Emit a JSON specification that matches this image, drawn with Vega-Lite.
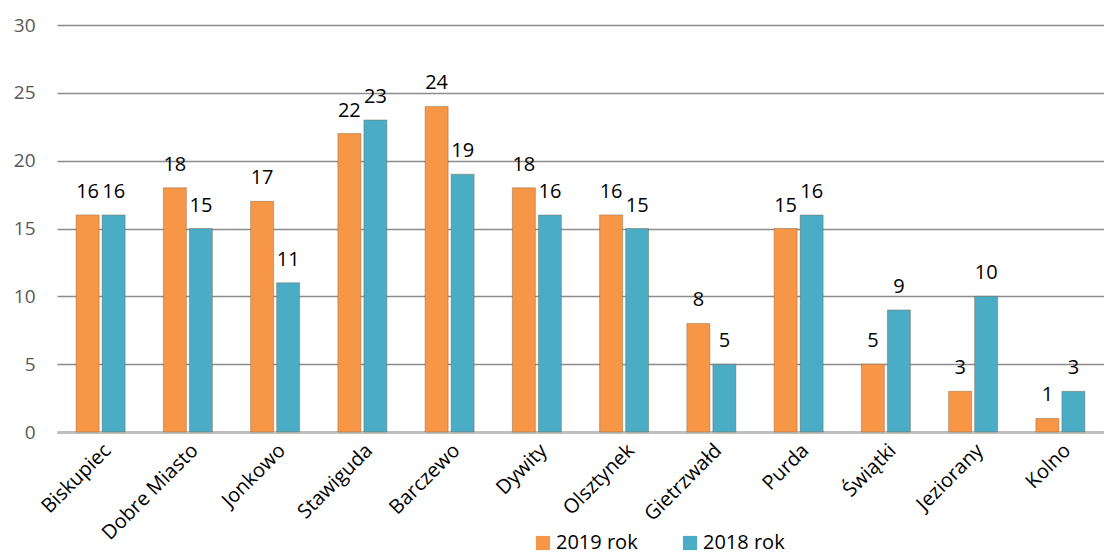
{
  "$schema": "https://vega.github.io/schema/vega-lite/v6.json",
  "width": 1047,
  "height": 407,
  "autosize": {"type": "none"},
  "padding": {"left": 57, "top": 25, "right": 0, "bottom": 124},
  "background": "white",
  "config": {"view": {"stroke": null}, "font": "Open Sans"},
  "data": {
    "values": [
      {"gmina": "Biskupiec", "seria": "2019 rok", "wartosc": 16},
      {"gmina": "Biskupiec", "seria": "2018 rok", "wartosc": 16},
      {"gmina": "Dobre Miasto", "seria": "2019 rok", "wartosc": 18},
      {"gmina": "Dobre Miasto", "seria": "2018 rok", "wartosc": 15},
      {"gmina": "Jonkowo", "seria": "2019 rok", "wartosc": 17},
      {"gmina": "Jonkowo", "seria": "2018 rok", "wartosc": 11},
      {"gmina": "Stawiguda", "seria": "2019 rok", "wartosc": 22},
      {"gmina": "Stawiguda", "seria": "2018 rok", "wartosc": 23},
      {"gmina": "Barczewo", "seria": "2019 rok", "wartosc": 24},
      {"gmina": "Barczewo", "seria": "2018 rok", "wartosc": 19},
      {"gmina": "Dywity", "seria": "2019 rok", "wartosc": 18},
      {"gmina": "Dywity", "seria": "2018 rok", "wartosc": 16},
      {"gmina": "Olsztynek", "seria": "2019 rok", "wartosc": 16},
      {"gmina": "Olsztynek", "seria": "2018 rok", "wartosc": 15},
      {"gmina": "Gietrzwałd", "seria": "2019 rok", "wartosc": 8},
      {"gmina": "Gietrzwałd", "seria": "2018 rok", "wartosc": 5},
      {"gmina": "Purda", "seria": "2019 rok", "wartosc": 15},
      {"gmina": "Purda", "seria": "2018 rok", "wartosc": 16},
      {"gmina": "Świątki", "seria": "2019 rok", "wartosc": 5},
      {"gmina": "Świątki", "seria": "2018 rok", "wartosc": 9},
      {"gmina": "Jeziorany", "seria": "2019 rok", "wartosc": 3},
      {"gmina": "Jeziorany", "seria": "2018 rok", "wartosc": 10},
      {"gmina": "Kolno", "seria": "2019 rok", "wartosc": 1},
      {"gmina": "Kolno", "seria": "2018 rok", "wartosc": 3}
    ]
  },
  "encoding": {
    "x": {
      "field": "gmina",
      "type": "nominal",
      "sort": null,
      "scale": {"paddingInner": 0.438, "paddingOuter": 0.219},
      "axis": {
        "title": null,
        "labelAngle": -45,
        "labelAlign": "right",
        "labelBaseline": "top",
        "labelFontSize": 20,
        "labelColor": "#000000",
        "labelPadding": 8,
        "ticks": false,
        "domainColor": "#bfbfbf",
        "domainWidth": 3,
        "labelFont": "Open Sans"
      }
    },
    "xOffset": {
      "field": "seria",
      "type": "nominal",
      "sort": ["2019 rok", "2018 rok"],
      "scale": {"paddingInner": 0.115, "paddingOuter": 0}
    },
    "y": {
      "field": "wartosc",
      "type": "quantitative",
      "scale": {"domain": [0, 30]},
      "axis": {
        "title": null,
        "values": [0, 5, 10, 15, 20, 25, 30],
        "labelFontSize": 19,
        "labelColor": "#595959",
        "labelPadding": 22,
        "ticks": false,
        "domain": false,
        "gridColor": "#8c8c8c",
        "gridWidth": 1.5,
        "labelFont": "Open Sans"
      }
    }
  },
  "layer": [
    {
      "mark": {"type": "bar", "strokeWidth": 1, "stroke": "#7a5a3a", "strokeOpacity": 0.4},
      "encoding": {
        "color": {
          "field": "seria",
          "type": "nominal",
          "sort": ["2019 rok", "2018 rok"],
          "scale": {"domain": ["2019 rok", "2018 rok"], "range": ["#F79646", "#4BACC6"]},
          "legend": {
            "title": null,
            "orient": "none",
            "legendX": 476,
            "legendY": 508,
            "direction": "horizontal",
            "symbolType": "square",
            "symbolSize": 200,
            "symbolStrokeWidth": 0,
            "labelFontSize": 20,
            "labelColor": "#000000",
            "labelFont": "Open Sans",
            "columnPadding": 42,
            "labelOffset": 3
          }
        }
      }
    },
    {
      "mark": {"type": "text", "baseline": "alphabetic", "dy": -17, "fontSize": 20, "color": "#000000", "font": "Open Sans"},
      "encoding": {"text": {"field": "wartosc", "type": "quantitative"}}
    }
  ]
}
